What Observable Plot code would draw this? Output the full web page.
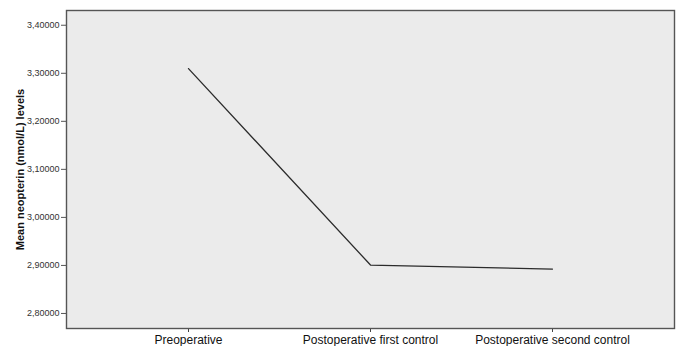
<!DOCTYPE html>
<html>
<head>
<meta charset="utf-8">
<script src="https://cdn.jsdelivr.net/npm/d3@7"></script>
<script src="https://cdn.jsdelivr.net/npm/@observablehq/plot@0.6"></script>
<style>
  html, body { margin: 0; padding: 0; background: #ffffff; }
  #chart svg { display: block; }
</style>
</head>
<body>
<div id="chart"></div>
<script>
const categories = ["Preoperative", "Postoperative first control", "Postoperative second control"];
const meanNeopterin = [3.3098, 2.9008, 2.8925];
const yTicks = [2.8, 2.9, 3.0, 3.1, 3.2, 3.3, 3.4];
const yTitle = "Mean neopterin (nmol/L) levels";

const data = categories.map((c, i) => ({ phase: c, value: meanNeopterin[i] }));

const chart = Plot.plot({
  width: 678,
  height: 346,
  marginLeft: 66,
  marginRight: 4,
  marginTop: 10,
  marginBottom: 18,
  style: { fontFamily: "Liberation Sans, Arial, sans-serif", background: "#ffffff" },
  x: { type: "point", domain: categories, padding: 0.666, label: null },
  y: { domain: [2.7687, 3.4307], label: null },
  marks: [
    Plot.frame({ fill: "#ebebeb", stroke: "none" }),
    Plot.axisX({ tickSize: 4, tickPadding: 3, fontSize: 12, stroke: "#444", color: "#111", label: null }),
    Plot.axisY({
      ticks: yTicks, tickSize: 5, tickPadding: 2, fontSize: 9, color: "#333", stroke: "#555",
      tickFormat: d => d.toFixed(5).replace(".", ","),
      label: yTitle, labelAnchor: "center", labelArrow: "none", labelOffset: 50
    }),
    Plot.line(data, { x: "phase", y: "value", stroke: "#2b2b2b", strokeWidth: 1.3 }),
    Plot.frame({ stroke: "#555", strokeWidth: 1.4 })
  ]
});

// bold axis title
chart.querySelectorAll("g[aria-label='y-axis label'] text").forEach(t => {
  t.setAttribute("font-weight", "bold");
  t.setAttribute("font-size", "11");
  t.setAttribute("fill", "#111");
});
document.getElementById("chart").appendChild(chart);
</script>
</body>
</html>
